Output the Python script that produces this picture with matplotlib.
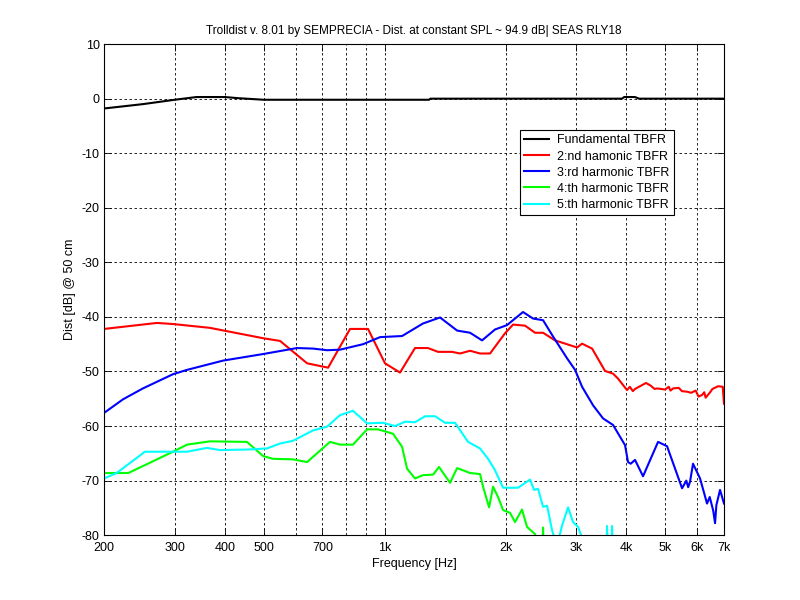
# TBFR harmonic distortion plot, MATLAB-like look

import numpy as np
import matplotlib
matplotlib.use("Agg")
import matplotlib.pyplot as plt

plt.rcParams['font.family'] = ['Liberation Sans', 'DejaVu Sans']
plt.rcParams['axes.unicode_minus'] = False

####################### data (freq in Hz, level in dB)
f_fund = [200, 250, 300, 340, 400, 430, 500, 1000, 1290, 1300, 2000, 3000, 3900, 3950, 4200, 4300, 7000]
d_fund = [-1.8, -1.0, -0.2, 0.3, 0.3, 0.1, -0.2, -0.2, -0.2, 0.0, 0.0, 0.0, 0.0, 0.3, 0.3, 0.0, 0.0]

f_h2 = [200, 271, 297, 367, 498, 549, 641, 723, 820, 909, 1002, 1092, 1190, 1282,
        1358, 1472, 1541, 1632, 1728, 1830, 1994, 2088, 2237, 2369, 2480, 2657,
        3015, 3102, 3285, 3539, 3705, 3812, 4014, 4080, 4150, 4202, 4476, 4600,
        4700, 4768, 4994, 5100, 5150, 5227, 5400, 5500, 5662, 5800, 5950, 6050,
        6173, 6250, 6300, 6450, 6550, 6767, 6950, 7000]
d_h2 = [-42.2, -41.1, -41.3, -42.0, -43.9, -44.4, -48.5, -49.3, -42.2, -42.2, -48.5, -50.2, -45.7, -45.7,
        -46.4, -46.4, -46.7, -46.2, -46.7, -46.7, -43.0, -41.4, -41.6, -42.9, -42.9, -44.3,
        -45.6, -44.9, -45.8, -49.9, -50.4, -51.3, -53.4, -52.8, -53.6, -53.2, -52.1, -52.6,
        -53.2, -53.1, -53.3, -52.8, -53.5, -53.1, -53.0, -53.6, -53.7, -53.9, -53.5, -54.6,
        -54.3, -53.8, -54.8, -53.9, -53.2, -52.7, -52.8, -55.9]

f_h3 = [200, 223, 250, 297, 322, 396, 498, 605, 663, 719, 774, 883, 974, 1105,
        1246, 1374, 1515, 1632, 1748, 1883, 2017, 2211, 2342, 2480, 2627, 2847,
        2980, 3102, 3304, 3499, 3705, 3969, 4037, 4100, 4202, 4400, 4796, 5050,
        5504, 5640, 5700, 5761, 5861, 6102, 6351, 6450, 6580, 6650, 6700, 6843, 7000]
d_h3 = [-57.6, -55.1, -53.1, -50.5, -49.7, -48.0, -46.8, -45.7, -45.8, -46.1, -46.0, -45.0, -43.7, -43.5,
        -41.2, -40.1, -42.5, -42.9, -44.3, -42.3, -41.5, -39.1, -40.3, -40.6, -43.6, -47.6,
        -49.7, -52.8, -56.2, -58.6, -59.8, -63.5, -66.6, -66.9, -66.2, -69.2, -62.9, -63.7,
        -71.4, -70.0, -71.2, -70.2, -66.9, -69.6, -74.2, -73.0, -75.5, -77.8, -74.5, -71.7, -74.2]

f_h4 = [200, 230, 297, 322, 367, 454, 498, 527, 591, 641, 731, 774, 834, 904, 963,
        1049, 1105, 1137, 1190, 1246, 1320, 1366, 1455, 1515, 1632, 1728, 1758,
        1820, 1862, 1916, 1972, 2052, 2112, 2198, 2263, 2369, 2420, 2470, 2480, 2495, 2520]
d_h4 = [-68.6, -68.6, -64.7, -63.4, -62.8, -62.9, -65.5, -66.0, -66.1, -66.6, -62.9, -63.4, -63.4, -60.6, -60.6,
        -61.4, -63.8, -67.8, -69.6, -69.0, -68.9, -67.5, -70.4, -67.7, -68.6, -68.8, -71.1,
        -74.9, -71.1, -73.0, -75.4, -75.9, -77.6, -75.3, -78.5, -79.8, -86.0, -86.0, -78.6, -86.0, -90.0]

f_h5 = [200, 215, 253, 322, 361, 389, 454, 509, 549, 591, 663, 719, 774, 834, 904,
        991, 1061, 1124, 1190, 1261, 1335, 1414, 1497, 1613, 1728, 1809, 1883,
        1972, 2149, 2302, 2355, 2410, 2480, 2538, 2612, 2688, 2766, 2863, 2946,
        3032, 3102, 3200, 3560, 3580, 3610, 3660, 3684, 3710, 3800]
d_h5 = [-69.6, -68.6, -64.7, -64.7, -64.0, -64.4, -64.3, -64.1, -63.2, -62.7, -60.8, -60.1, -58.0, -57.2, -59.5,
        -59.4, -60.0, -59.2, -59.3, -58.2, -58.2, -59.4, -59.4, -62.9, -64.1, -66.0, -68.1,
        -71.3, -71.3, -69.8, -71.7, -71.5, -74.8, -74.6, -79.1, -82.0, -78.2, -74.9, -77.6,
        -78.5, -80.5, -86.0, -86.0, -78.3, -86.0, -86.0, -78.3, -86.0, -90.0]

labels = ["Fundamental TBFR", "2:nd hamonic TBFR", "3:rd harmonic TBFR",
          "4:th harmonic TBFR", "5:th harmonic TBFR"]

xticks = [200, 300, 400, 500, 700, 1000, 2000, 3000, 4000, 5000, 6000, 7000]
xticklabels = ["200", "300", "400", "500", "700", "1k", "2k", "3k", "4k", "5k", "6k", "7k"]
xgrid = [300, 400, 500, 600, 700, 800, 900, 1000, 2000, 3000, 4000, 5000, 6000]

####################### plot
fig = plt.figure(figsize=(8, 6), dpi=100)
ax = fig.add_axes([0.13, 0.108, 0.775, 0.8185])

lw = 1.5
ax.plot(f_fund, d_fund, color=(0, 0, 0), lw=lw, label=labels[0])
ax.plot(f_h2, d_h2, color=(1, 0, 0), lw=lw, label=labels[1])
ax.plot(f_h3, d_h3, color=(0, 0, 1), lw=lw, label=labels[2])
ax.plot(f_h4, d_h4, color=(0, 1, 0), lw=lw, label=labels[3])
ax.plot(f_h5, d_h5, color=(0, 1, 1), lw=lw, label=labels[4])

ax.set_xscale("log")
ax.set_xlim(200, 7000)
ax.set_ylim(-80, 10)

# dashed grid like matlab
for xg in xgrid:
    ax.axvline(xg, color="k", lw=0.6, ls=(0, (3, 3)), zorder=0)
for yg in range(-70, 10, 10):
    ax.axhline(yg, color="k", lw=0.6, ls=(0, (3, 3)), zorder=0)

ax.xaxis.set_minor_locator(matplotlib.ticker.NullLocator())
ax.set_xticks(xticks)
ax.set_xticklabels(xticklabels)
ax.set_yticks(range(-80, 11, 10))
ax.tick_params(direction="in", top=True, right=True, length=5, width=0.6,
               labelsize=9)
ax.tick_params(axis="x", pad=5)
ax.tick_params(axis="y", pad=3)
for s in ax.spines.values():
    s.set_linewidth(0.8)

ax.set_title("Trolldist v. 8.01 by SEMPRECIA - Dist. at constant SPL ~ 94.9 dB| SEAS RLY18",
             fontsize=8.5, pad=7)
ax.set_xlabel("Frequency [Hz]", fontsize=9, labelpad=3)
ax.set_ylabel("Dist [dB] @ 50 cm", fontsize=9, labelpad=4)

leg = ax.legend(loc="upper left", bbox_to_anchor=(0.671, 0.825), fontsize=9,
                fancybox=False, framealpha=1, edgecolor="k", handlelength=2.0,
                borderpad=0.35, labelspacing=0.33, handletextpad=0.6,
                borderaxespad=0)
leg.get_frame().set_linewidth(0.8)
# matlab legends leave extra room on the right
fr = leg.get_frame()
leg_w = fr.get_width()

fig.savefig("out.png", dpi=100, facecolor="white")
